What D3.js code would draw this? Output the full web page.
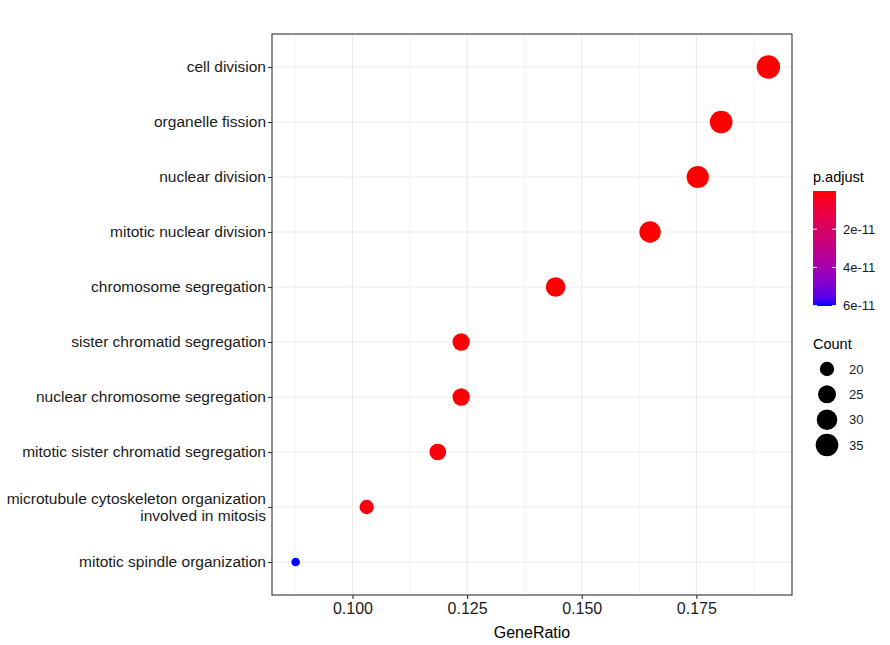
<!DOCTYPE html>
<html>
<head>
<meta charset="utf-8">
<script src="https://cdn.jsdelivr.net/npm/d3@7"></script>
<style>
  body { margin: 0; background: #fff; }
  text { font-family: "Liberation Sans", Arial, sans-serif; }
</style>
</head>
<body>
<div id="chart"></div>
<script>
// GO terms, top to bottom
var terms = [
    "cell division",
    "organelle fission",
    "nuclear division",
    "mitotic nuclear division",
    "chromosome segregation",
    "sister chromatid segregation",
    "nuclear chromosome segregation",
    "mitotic sister chromatid segregation",
    "microtubule cytoskeleton organization\ninvolved in mitosis",
    "mitotic spindle organization"
];
var counts = [37, 35, 34, 32, 28, 24, 24, 23, 20, 17];
var geneRatio = [0.1907, 0.1804, 0.1753, 0.1649, 0.1443, 0.1237, 0.1237, 0.1186, 0.1031, 0.0876];
var pAdjust = [2.1e-15, 3.5e-14, 6.8e-14, 1.2e-13, 9.4e-14, 4.1e-13, 3.3e-13, 8.7e-13, 1.5e-12, 6.02e-11];

var xTicks = [0.100, 0.125, 0.150, 0.175];
var xMinor = [0.0875, 0.1125, 0.1375, 0.1625, 0.1875];
var colorTicks = [2e-11, 4e-11, 6e-11];
var sizeBreaks = [20, 25, 30, 35];

var svgWidth = 890;
var svgHeight = 645;

// panel box
var margin = { top: 34, right: 98, bottom: 50, left: 272 };
var width = svgWidth - margin.left - margin.right;
var height = svgHeight - margin.top - margin.bottom;

var svg = d3.select("#chart")
    .append("svg")
    .attr("width", svgWidth)
    .attr("height", svgHeight);

var chartGroup = svg.append("g")
    .attr("transform", `translate(${margin.left}, ${margin.top})`);

var data = terms.map((t, i) => ({
    term: t, count: counts[i], ratio: geneRatio[i], p: pAdjust[i]
}));

// x scale with 5% expansion like ggplot
var xExt = d3.extent(geneRatio);
var pad = (xExt[1] - xExt[0]) * 0.05;
var xScale = d3.scaleLinear()
    .domain([xExt[0] - pad, xExt[1] + pad])
    .range([0, width]);

var yScale = d3.scalePoint()
    .domain(terms)
    .range([0, height])
    .padding(0.6);

// size: area scale like ggplot scale_size
var sizeT = d3.scaleLinear().domain(d3.extent(counts)).range([0, 1]);
var rScale = d3.scaleLinear().domain([0, 1]).range([4.3, 11.7]);
var radius = c => rScale(Math.sqrt(Math.max(0, sizeT(c))));

// colour: low p red, high p blue (Lab interpolation)
var pExt = d3.extent(pAdjust);
var colorScale = d3.scaleLinear()
    .domain(pExt)
    .range(["#ff0000", "#0000ff"])
    .interpolate(d3.interpolateLab);

// grid lines
chartGroup.selectAll(".minor")
    .data(xMinor)
    .enter()
    .append("line")
    .attr("x1", d => xScale(d)).attr("x2", d => xScale(d))
    .attr("y1", 0).attr("y2", height)
    .attr("stroke", "#ebebeb").attr("stroke-width", 0.6);

chartGroup.selectAll(".majorx")
    .data(xTicks)
    .enter()
    .append("line")
    .attr("x1", d => xScale(d)).attr("x2", d => xScale(d))
    .attr("y1", 0).attr("y2", height)
    .attr("stroke", "#ebebeb").attr("stroke-width", 1.1);

chartGroup.selectAll(".majory")
    .data(terms)
    .enter()
    .append("line")
    .attr("x1", 0).attr("x2", width)
    .attr("y1", d => yScale(d)).attr("y2", d => yScale(d))
    .attr("stroke", "#ebebeb").attr("stroke-width", 1.1);

// points
chartGroup.selectAll("circle")
    .data(data)
    .enter()
    .append("circle")
    .attr("cx", d => xScale(d.ratio))
    .attr("cy", d => yScale(d.term))
    .attr("r", d => radius(d.count))
    .attr("fill", d => colorScale(d.p));

// panel border
chartGroup.append("rect")
    .attr("width", width).attr("height", height)
    .attr("fill", "none")
    .attr("stroke", "#333333").attr("stroke-width", 1.1);

// axes
var bottomAxis = d3.axisBottom(xScale)
    .tickValues(xTicks)
    .tickFormat(d3.format(".3f"))
    .tickSize(4).tickPadding(4);

var xAxis = chartGroup.append("g")
    .attr("transform", `translate(0, ${height})`)
    .call(bottomAxis);
xAxis.select(".domain").remove();
xAxis.selectAll("line").attr("stroke", "#333333").attr("stroke-width", 1.1);
xAxis.selectAll("text")
    .attr("fill", "#1a1a1a")
    .style("font-size", "16px")
    .style("font-family", "'Liberation Sans', Arial, sans-serif");

var leftAxis = d3.axisLeft(yScale).tickSize(4).tickFormat("");
var yAxis = chartGroup.append("g").call(leftAxis);
yAxis.select(".domain").remove();
yAxis.selectAll("line").attr("stroke", "#333333").attr("stroke-width", 1.1);

// y labels (multi line)
chartGroup.selectAll(".ylab")
    .data(terms)
    .enter()
    .append("text")
    .attr("class", "ylab")
    .attr("text-anchor", "end")
    .attr("fill", "#1a1a1a")
    .style("font-size", "15.5px")
    .each(function(d) {
        var lines = d.split("\n");
        var el = d3.select(this);
        var y0 = yScale(d) - (lines.length - 1) * 17 / 2;
        lines.forEach((ln, k) => {
            el.append("tspan")
                .attr("x", -6)
                .attr("y", y0 + k * 17)
                .attr("dy", "0.35em")
                .text(ln);
        });
    });

// x axis label
svg.append("text")
    .attr("x", margin.left + width / 2)
    .attr("y", 638)
    .attr("text-anchor", "middle")
    .style("font-size", "16px")
    .attr("fill", "#000")
    .text("GeneRatio");

// colour bar legend
var legX = 813;
svg.append("text")
    .attr("x", legX).attr("y", 182)
    .style("font-size", "14.5px")
    .text("p.adjust");

var barTop = 191, barH = 115, barW = 23;
var defs = svg.append("defs");
var grad = defs.append("linearGradient")
    .attr("id", "pgrad")
    .attr("x1", 0).attr("y1", 0).attr("x2", 0).attr("y2", 1);
d3.range(0, 1.0001, 0.05).forEach(t => {
    grad.append("stop")
        .attr("offset", (t * 100) + "%")
        .attr("stop-color", colorScale(pExt[0] + t * (pExt[1] - pExt[0])));
});

svg.append("rect")
    .attr("x", legX).attr("y", barTop)
    .attr("width", barW).attr("height", barH)
    .attr("fill", "url(#pgrad)");

var barScale = d3.scaleLinear().domain(pExt).range([barTop, barTop + barH]);
var cb = svg.append("g");
colorTicks.forEach(v => {
    var yy = barScale(v);
    cb.append("line").attr("x1", legX).attr("x2", legX + 4)
        .attr("y1", yy).attr("y2", yy).attr("stroke", "#fff");
    cb.append("line").attr("x1", legX + barW - 4).attr("x2", legX + barW)
        .attr("y1", yy).attr("y2", yy).attr("stroke", "#fff");
    cb.append("text")
        .attr("x", legX + barW + 7).attr("y", yy)
        .attr("dy", "0.35em")
        .style("font-size", "13px")
        .attr("fill", "#1a1a1a")
        .text(v.toExponential(0));
});

// size legend
svg.append("text")
    .attr("x", legX).attr("y", 349)
    .style("font-size", "14.5px")
    .text("Count");

var sizeY = d3.scalePoint().domain(sizeBreaks).range([369, 445]);
svg.selectAll(".sizekey")
    .data(sizeBreaks)
    .enter()
    .append("circle")
    .attr("cx", 827)
    .attr("cy", d => sizeY(d))
    .attr("r", d => radius(d))
    .attr("fill", "#000");

svg.selectAll(".sizelab")
    .data(sizeBreaks)
    .enter()
    .append("text")
    .attr("x", 849)
    .attr("y", d => sizeY(d))
    .attr("dy", "0.35em")
    .style("font-size", "13px")
    .attr("fill", "#1a1a1a")
    .text(d => d);
</script>
</body>
</html>
